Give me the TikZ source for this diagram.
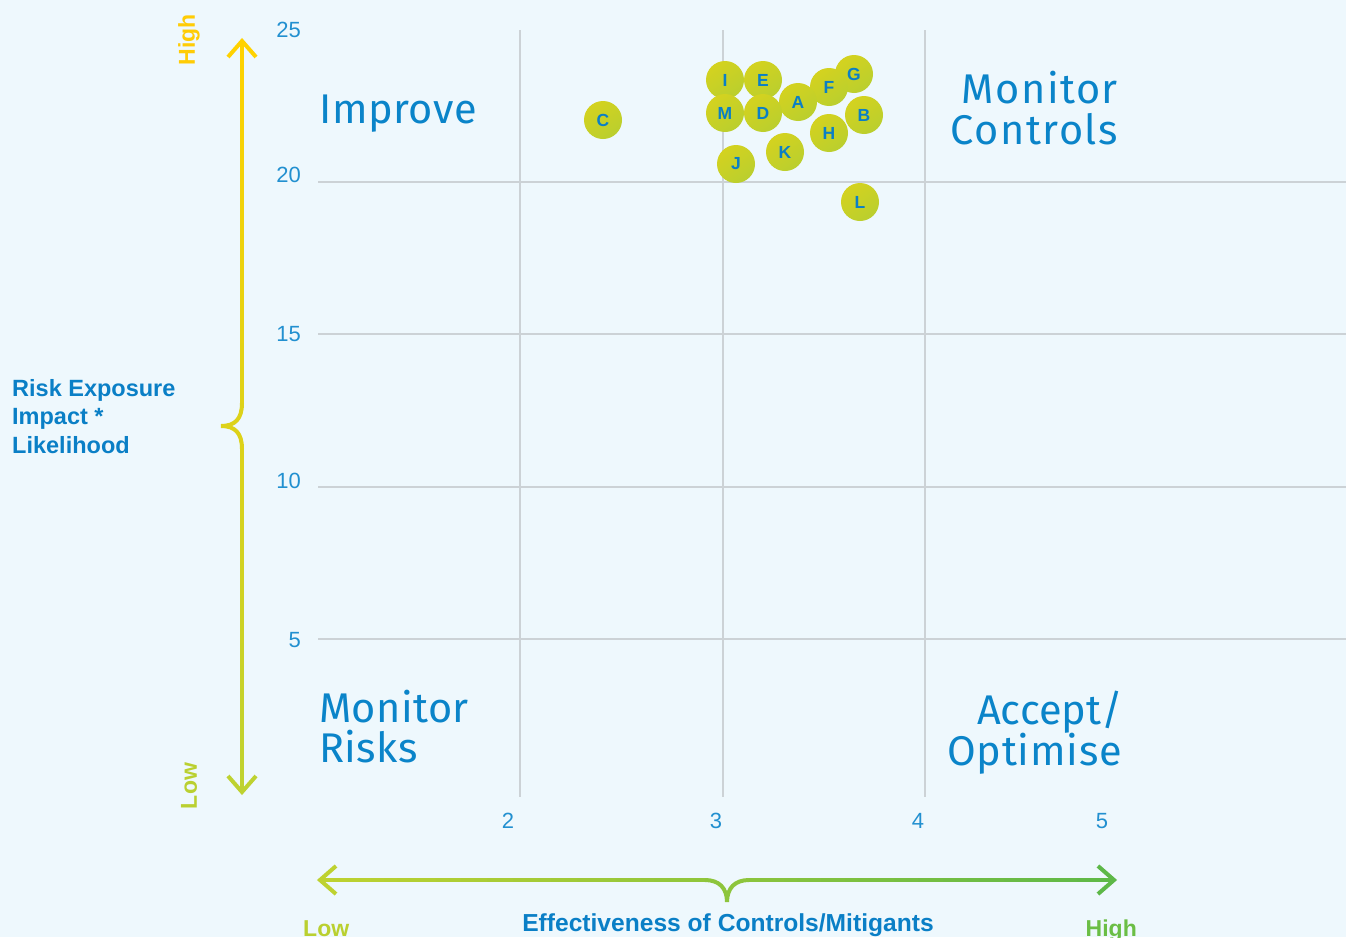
\documentclass[tikz,border=0pt]{standalone}
\usepackage{fontspec}
\setmainfont{Liberation Sans}
\newfontfamily\quadfont{Fira Sans}
\definecolor{bg}{HTML}{EEF8FD}
\definecolor{gridc}{HTML}{CCD2D6}
\definecolor{numblue}{HTML}{2290D0}
\definecolor{qblue}{HTML}{0A84C9}
\definecolor{lblue}{HTML}{0A7FC6}
\definecolor{ytop}{HTML}{FFD200}
\definecolor{ybot}{HTML}{BED230}
\definecolor{xleft}{HTML}{BED230}
\definecolor{xright}{HTML}{5DB848}
\definecolor{bubA}{HTML}{D4D21F}
\definecolor{bubB}{HTML}{BACF2E}
\definecolor{hilab}{HTML}{FFCC05}
\definecolor{lolab}{HTML}{BAD030}
\definecolor{hilabx}{HTML}{6BBE45}
\begin{document}
\begin{tikzpicture}[x=1pt,y=-1pt,
  gridline/.style={draw=gridc, line width=1.3pt},
  num/.style={font=\fontsize{22}{22}\selectfont, text=numblue, inner sep=0pt},
  quad/.style={font=\quadfont\fontsize{41.5}{41.5}\selectfont\addfontfeature{LetterSpace=#1}, text=qblue, inner sep=0pt},
  axlab/.style={font=\bfseries\fontsize{23.5}{23.5}\selectfont, text=lblue, inner sep=0pt, anchor=base west},
  endlab/.style={font=\bfseries\fontsize{23}{23}\selectfont, inner sep=0pt},
  bubble/.style={circle, minimum size=38pt, inner sep=0pt, top color=bubA, bottom color=bubB, shading angle=35,
     font=\bfseries\fontsize{17.5}{17.5}\selectfont, text=lblue},
  axline/.style={line width=4pt, line cap=butt},
]
\fill[bg] (0,0) rectangle (1346,937);
\useasboundingbox (0,0) rectangle (1346,937);

% grid
\foreach \x in {520,723,925} \draw[gridline] (\x,30) -- (\x,797);
\foreach \y in {182,334,487,639} \draw[gridline] (318,\y) -- (1346,\y);

% tick labels
\node[num, anchor=base east] (t25) at (301,37) {25};
\node[num, anchor=base east] (t20) at (301,182) {20};
\node[num, anchor=base east] (t15) at (301,341) {15};
\node[num, anchor=base east] (t10) at (301,488) {10};
\node[num, anchor=base east] (t5)  at (301,647) {5};
\node[num, anchor=base] (b2) at (508,828) {2};
\node[num, anchor=base] (b3) at (716,828) {3};
\node[num, anchor=base] (b4) at (918,828) {4};
\node[num, anchor=base] (b5) at (1102,828) {5};

% quadrant labels
\node[quad=1.5, anchor=base west] (imp) at (319,123) {Improve};
\node[quad=3.6, anchor=base east] (mc1) at (1118,103) {Monitor};
\node[quad=3.6, anchor=base east] (mc2) at (1118,144) {Controls};
\node[quad=1, anchor=base west] (mr1) at (319,722) {Monitor};
\node[quad=1, anchor=base west] (mr2) at (319,762) {Risks};
\node[quad=0, anchor=base east] (ao1) at (1123,724) {Accept/};
\node[quad=1.8, anchor=base east] (ao2) at (1122,765) {Optimise};

% left axis label
\node[axlab] (re1) at (12,396.5) {Risk Exposure};
\node[axlab] (re2) at (12,424.5) {Impact *};
\node[axlab] (re3) at (12,453.5) {Likelihood};

% vertical axis arrow
\coordinate (vtop) at (242,41);
\coordinate (vbot) at (242,792);
\coordinate (vbr) at (221,426);
\foreach \i in {0,...,29} {
  \pgfmathsetmacro\ya{41+\i*(403.5-41)/30}
  \pgfmathsetmacro\yb{41+(\i+1)*(403.5-41)/30+0.6}
  \pgfmathtruncatemacro\p{100-(\ya-41)/(792-41)*100}
  \draw[axline, draw=ytop!\p!ybot] (242,\ya) -- (242,\yb);
}
\foreach \i in {0,...,29} {
  \pgfmathsetmacro\ya{448.5+\i*(792-448.5)/30-0.6}
  \pgfmathsetmacro\yb{448.5+(\i+1)*(792-448.5)/30}
  \pgfmathtruncatemacro\p{100-(\ya-41)/(792-41)*100}
  \draw[axline, draw=ytop!\p!ybot] (242,\ya) -- (242,\yb);
}
\draw[axline, draw=ytop!48!ybot] (242,403) .. controls (242,419) and (235,426) .. (vbr)
   .. controls (235,426) and (242,433) .. (242,449);
\draw[axline, draw=ytop, line join=miter] (228,57) -- (vtop) -- (256,57);
\draw[axline, draw=ybot, line join=miter] (228,776) -- (vbot) -- (256,776);

\node[endlab, text=hilab, rotate=90] (vhigh) at (189,40) {High};
\node[endlab, text=lolab, rotate=90] (vlow) at (189,786) {Low};

% horizontal axis arrow
\coordinate (hl) at (320,880);
\coordinate (hr) at (1114,880);
\coordinate (hbr) at (727,902);
\foreach \i in {0,...,29} {
  \pgfmathsetmacro\xa{320+\i*(705.5-320)/30}
  \pgfmathsetmacro\xb{320+(\i+1)*(705.5-320)/30+0.6}
  \pgfmathtruncatemacro\p{100-(\xa-320)/(1114-320)*100}
  \draw[axline, draw=xleft!\p!xright] (\xa,880) -- (\xb,880);
}
\foreach \i in {0,...,29} {
  \pgfmathsetmacro\xa{748.5+\i*(1114-748.5)/30-0.6}
  \pgfmathsetmacro\xb{748.5+(\i+1)*(1114-748.5)/30}
  \pgfmathtruncatemacro\p{100-(\xa-320)/(1114-320)*100}
  \draw[axline, draw=xleft!\p!xright] (\xa,880) -- (\xb,880);
}
\draw[axline, draw=xleft!49!xright] (705,880) .. controls (719,880) and (727,888) .. (hbr)
   .. controls (727,888) and (735,880) .. (749,880);
\draw[axline, draw=xleft, line join=miter] (336,866) -- (hl) -- (336,894);
\draw[axline, draw=xright, line join=miter] (1098,866) -- (hr) -- (1098,894);

\node[endlab, text=lolab, anchor=base west] (hlow) at (303,936) {Low};
\node[endlab, text=hilabx, anchor=base east] (hhigh) at (1137,936) {High};
\node[font=\bfseries\fontsize{24.6}{24.6}\selectfont, text=lblue, inner sep=0pt, anchor=base] (hlab) at (728,931) {Effectiveness of Controls/Mitigants};

% bubbles
\node[bubble] (bI) at (725,80) {I};
\node[bubble] (bE) at (763,80) {E};
\node[bubble] (bG) at (854,74) {G};
\node[bubble] (bF) at (829,87) {F};
\node[bubble] (bA) at (798,102) {A};
\node[bubble] (bM) at (725,113) {M};
\node[bubble] (bD) at (763,113) {D};
\node[bubble] (bB) at (864,115) {B};
\node[bubble] (bH) at (829,133) {H};
\node[bubble] (bK) at (785,152) {K};
\node[bubble] (bJ) at (736,164) {J};
\node[bubble] (bL) at (860,202) {L};
\node[bubble] (bC) at (603,120) {C};
\end{tikzpicture}
\end{document}
